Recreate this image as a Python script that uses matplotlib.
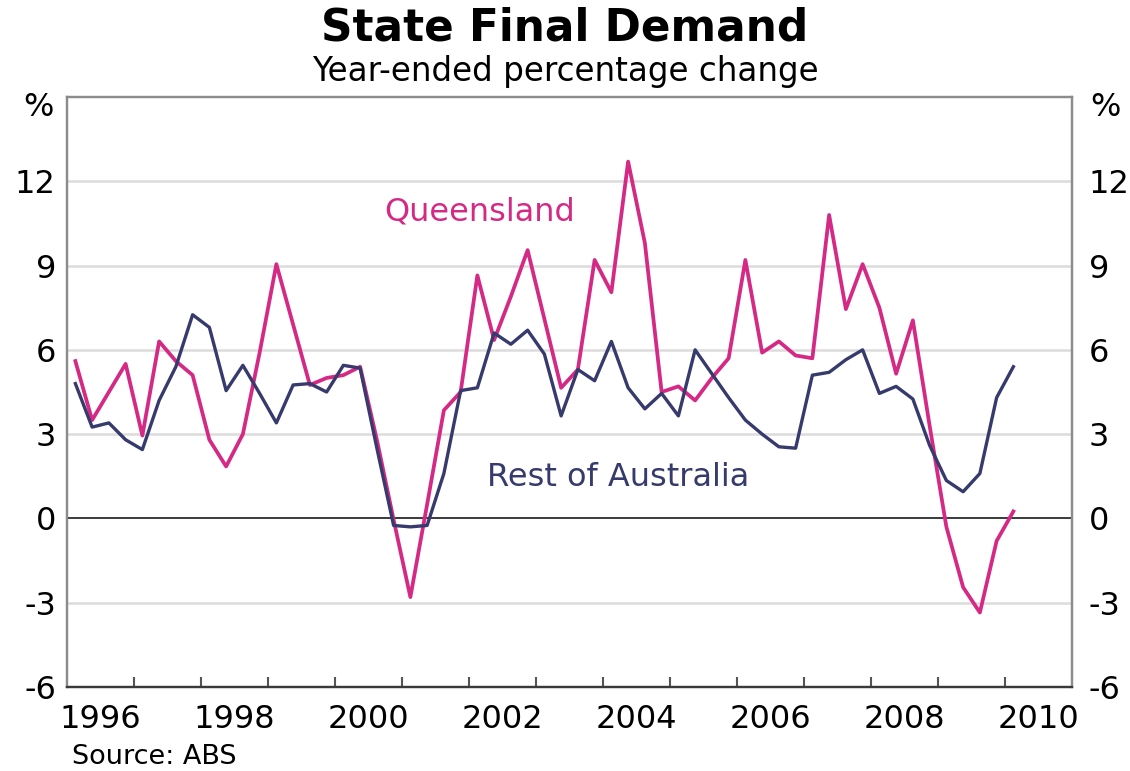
import numpy as np
import matplotlib
matplotlib.use('Agg')
import matplotlib.pyplot as plt
from matplotlib.ticker import FixedLocator, NullFormatter, FixedFormatter

plt.rcParams['axes.unicode_minus'] = False

# Year-ended % change in state final demand, quarterly from March 1996
queensland = [5.6, 3.5, 4.5, 5.5, 2.95, 6.3, 5.6, 5.1, 2.8, 1.85,
              3.0, 5.9, 9.05, 6.9, 4.75, 5.0, 5.1, 5.4, 2.8, -0.05,
              -2.8, 0.5, 3.85, 4.5, 8.65, 6.35, 7.9, 9.55, 7.1, 4.65,
              5.3, 9.2, 8.05, 12.7, 9.8, 4.5, 4.7, 4.2, 5.0, 5.7,
              9.2, 5.9, 6.3, 5.8, 5.7, 10.8, 7.45, 9.05, 7.5, 5.15,
              7.05, 3.3, -0.3, -2.45, -3.35, -0.8, 0.25]
rest_of_aus = [4.8, 3.25, 3.4, 2.8, 2.45, 4.2, 5.4, 7.25, 6.8, 4.55,
               5.45, 4.45, 3.4, 4.75, 4.8, 4.5, 5.45, 5.35, 2.5, -0.25,
               -0.3, -0.25, 1.6, 4.55, 4.65, 6.6, 6.2, 6.7, 5.85, 3.65,
               5.3, 4.9, 6.3, 4.65, 3.9, 4.45, 3.65, 6.0, 5.15, 4.3,
               3.5, 3.0, 2.55, 2.5, 5.1, 5.2, 5.65, 6.0, 4.45, 4.7,
               4.25, 2.6, 1.35, 0.95, 1.6, 4.3, 5.4]
first_quarter = 1996.125
year_labels = ['1996', '1998', '2000', '2002', '2004', '2006', '2008', '2010']
y_ticks = [-6, -3, 0, 3, 6, 9, 12]

pink = '#d42a86'
navy = '#363a6c'

dates = first_quarter + 0.25 * np.arange(len(queensland))

fig = plt.figure(figsize=(11.3, 7.71), dpi=100)
ax = fig.add_axes([67 / 1130, 1 - 687 / 771, (1072 - 67) / 1130, (687 - 97) / 771])

# light grid, dark zero line
for y in y_ticks[1:]:
    if y == 0:
        ax.axhline(0, color='#3a3a3a', lw=1.4, zorder=1)
    else:
        ax.axhline(y, color='#dcdcdc', lw=1.8, zorder=0)

ax.plot(dates, queensland, color=pink, lw=2.7, zorder=3)
ax.plot(dates, rest_of_aus, color=navy, lw=2.4, zorder=4)

ax.set_xlim(1996, 2011)
ax.set_ylim(-6, 15)

# year boundaries as tick marks, labels centred on the year
ax.xaxis.set_major_locator(FixedLocator(np.arange(1997, 2011)))
ax.xaxis.set_major_formatter(NullFormatter())
ax.xaxis.set_minor_locator(FixedLocator([int(s) + 0.5 for s in year_labels]))
ax.xaxis.set_minor_formatter(FixedFormatter(year_labels))
ax.tick_params(axis='x', which='major', direction='in', length=7, width=1.5,
               color='#555555')
ax.tick_params(axis='x', which='minor', length=0, pad=12, labelsize=23)

ax.set_yticks(y_ticks)
ax.tick_params(axis='y', length=0, pad=8, labelsize=23)

ax2 = ax.twinx()
ax2.set_ylim(ax.get_ylim())
ax2.set_yticks(y_ticks)
ax2.tick_params(axis='y', length=0, pad=12, labelsize=23)

for a in (ax, ax2):
    for side in ('left', 'right', 'top'):
        a.spines[side].set_color('#8c8c8c')
        a.spines[side].set_linewidth(1.6)
    a.spines['bottom'].set_color('#3a3a3a')
    a.spines['bottom'].set_linewidth(1.6)

ax.text(2002.16, 10.9, 'Queensland', color=pink, fontsize=23,
        ha='center', va='center')
ax.text(2004.22, 1.46, 'Rest of Australia', color=navy, fontsize=23,
        ha='center', va='center')

fig.text(38 / 1130, 1 - 108 / 771, '%', fontsize=23, ha='center', va='center')
fig.text(1105 / 1130, 1 - 108 / 771, '%', fontsize=23, ha='center', va='center')

fig.text(0.5, 1 - 28 / 771, 'State Final Demand', fontsize=31.5,
         fontweight='bold', ha='center', va='center')
fig.text(0.5, 1 - 72 / 771, 'Year-ended percentage change', fontsize=23.5,
         ha='center', va='center')
fig.text(72 / 1130, 1 - 757 / 771, 'Source: ABS', fontsize=19.5,
         ha='left', va='center')

fig.savefig('out.png', dpi=100)
